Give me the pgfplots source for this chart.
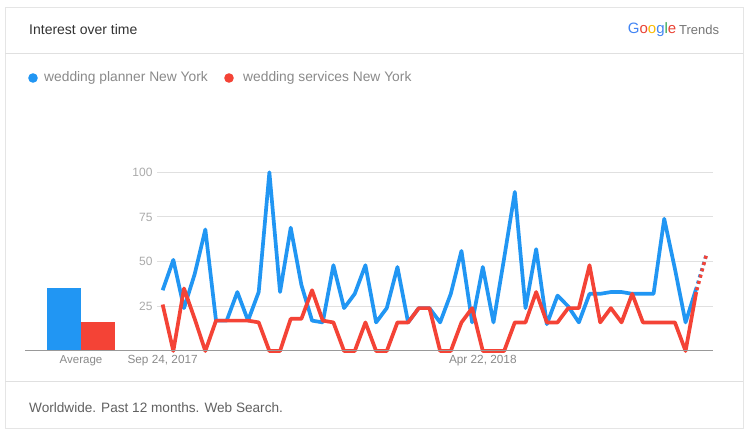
\documentclass[border=0pt]{standalone}
\usepackage{pgfplots}
\pgfplotsset{compat=1.18}
\usepackage{fontspec}
\setmainfont{Liberation Sans}
\definecolor{tblue}{HTML}{2196F3}
\definecolor{tred}{HTML}{F44336}
\definecolor{gblue}{HTML}{4285F4}
\definecolor{gred}{HTML}{EA4335}
\definecolor{gyellow}{HTML}{FBBC05}
\definecolor{ggreen}{HTML}{34A853}
\definecolor{gridc}{HTML}{E0E0E0}
\definecolor{tickc}{HTML}{AAAAAA}
\definecolor{labc}{HTML}{8A8A8A}
\definecolor{legc}{HTML}{757575}
\definecolor{headc}{HTML}{333333}
\definecolor{footc}{HTML}{616161}

\pgfplotstableread{
i blue red
0 34 26
1 51 0
2 24 35
3 43 18
4 68 0
5 17 17
6 17 17
7 33 17
8 17 17
9 33 16
10 100 0
11 33 0
12 69 18
13 37 18
14 17 34
15 16 17
16 48 16
17 24 0
18 32 0
19 48 16
20 16 0
21 24 0
22 47 16
23 16 16
24 24 24
25 24 24
26 16 0
27 32 0
28 56 16
29 16 24
30 47 0
31 16 0
32 52 0
33 89 16
34 24 16
35 57 33
36 15 16
37 31 16
38 25 24
39 16 24
40 32 48
41 32 16
42 33 24
43 33 16
44 32 32
45 32 16
46 32 16
47 74 16
48 46 16
49 16 0
50 35 33
}\solid
\pgfplotstableread{
i blue red
50 35 33
51 55 55
}\partial

\begin{document}
\begin{tikzpicture}[x=1pt,y=1pt]
\path[use as bounding box] (0,0) rectangle (748,434);
% card
\fill[black!18] (5.5,4.5) rectangle (744,426.5);
\fill[white] (5,6) rectangle (743,427);
\draw[black!10, line width=0.6pt] (5,6) rectangle (743,427);
\draw[gridc, line width=1pt] (5,380) -- (743,380);
\draw[gridc, line width=1pt] (5,52) -- (743,52);
% header
\node[anchor=west, inner sep=0pt, text=headc, font=\fontsize{14}{16}\selectfont] at (29,404) {Interest over time};
\node[anchor=east, inner sep=0pt, font=\fontsize{15}{17}\selectfont] at (676.5,404) {\textcolor{gblue}{G}\textcolor{gred}{o}\textcolor{gyellow}{o}\textcolor{gblue}{g}\textcolor{ggreen}{l}\textcolor{gred}{e}};
\node[anchor=west, inner sep=0pt, text=legc, font=\fontsize{13}{15}\selectfont] at (679,404) {Trends};
% legend
\fill[tblue] (33,356) circle (4.8);
\node[anchor=west, inner sep=0pt, text=labc, font=\fontsize{13.8}{16}\selectfont] at (44,356) {wedding planner New York};
\fill[tred] (229,356) circle (4.8);
\node[anchor=west, inner sep=0pt, text=labc, font=\fontsize{13.8}{16}\selectfont] at (243,356) {wedding services New York};
% footer
\node[anchor=west, inner sep=0pt, text=footc, font=\fontsize{13.6}{16}\selectfont] at (29,26) {Worldwide. Past 12 months. Web Search.};

% average bars
\begin{axis}[
  at={(25pt,83pt)}, anchor=south west,
  scale only axis, width=132pt, height=178.7pt,
  xmin=25, xmax=157, ymin=0, ymax=100,
  hide axis, clip=false,
]
\addplot[ybar, bar width=34.3pt, fill=tblue, draw=none, bar shift=0pt] coordinates {(63.9,35)};
\addplot[ybar, bar width=34.3pt, fill=tred, draw=none, bar shift=0pt] coordinates {(98.2,16)};
\end{axis}
\node[anchor=center, inner sep=0pt, text=labc, font=\fontsize{11.5}{13}\selectfont] at (81,73) {Average};

% main chart
\begin{axis}[
  at={(157pt,83pt)}, anchor=south west,
  scale only axis, width=556pt, height=178.7pt,
  xmin=-0.53, xmax=51.57, ymin=0, ymax=100,
  axis line style={draw=none},
  major tick length=0pt,
  ytick={25,50,75,100},
  ymajorgrids, grid style={gridc, line width=1pt},
  xtick={0,30}, xticklabels={{Sep 24, 2017},{Apr 22, 2018}},
  yticklabel style={text=tickc, font=\fontsize{12}{14}\selectfont, xshift=-1pt},
  xticklabel style={text=labc, font=\fontsize{11.8}{14}\selectfont, yshift=-1pt},
  /pgf/number format/assume math mode=true,
  clip=false,
]
\addplot[tblue, line width=3.7pt, line join=round] table[x=i, y=blue] {\solid};
\addplot[tred, line width=3.7pt, line join=round] table[x=i, y=red] {\solid};
\addplot[tblue, line width=3.5pt, dash pattern=on 3pt off 3.5pt, dash phase=1.5pt] table[x=i, y=blue] {\partial};
\addplot[tred, line width=3.5pt, dash pattern=on 3pt off 3.5pt, dash phase=4.5pt] table[x=i, y=red] {\partial};
\end{axis}
\draw[black!40, line width=1pt] (25,83) -- (713,83);
\end{tikzpicture}
\end{document}
